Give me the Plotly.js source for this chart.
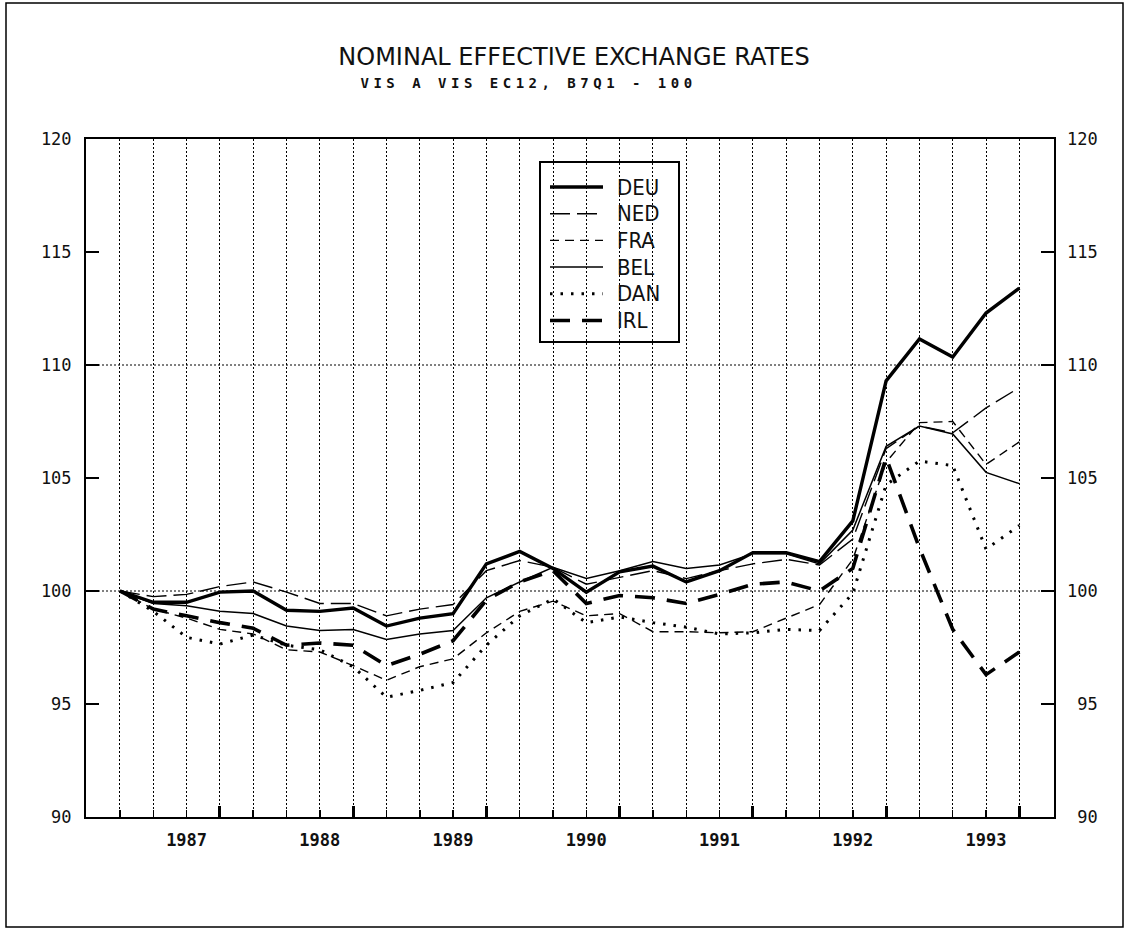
<!DOCTYPE html>
<html>
<head>
<meta charset="utf-8">
<script src="https://cdn.plot.ly/plotly-3.0.1.min.js"></script>
<style>
  html, body { margin: 0; padding: 0; background: #fff; }
  #chart { width: 1129px; height: 930px; }
  .annotation[data-index="0"] text { letter-spacing: 4.5px; }
</style>
</head>
<body>
<div id="chart"></div>
<script>
// ---- data (quarterly, 87Q1 = 100) ----
const quarters = ['87Q1','87Q2','87Q3','87Q4','88Q1','88Q2','88Q3','88Q4',
                  '89Q1','89Q2','89Q3','89Q4','90Q1','90Q2','90Q3','90Q4',
                  '91Q1','91Q2','91Q3','91Q4','92Q1','92Q2','92Q3','92Q4',
                  '93Q1','93Q2','93Q3','93Q4'];
const yearLabels = ['1987','1988','1989','1990','1991','1992','1993'];

const DEU = [100,99.5,99.5,99.95,100.0,99.15,99.1,99.25,98.45,98.8,99.0,101.2,101.75,101.0,
             99.95,100.85,101.1,100.4,100.9,101.7,101.7,101.3,103.1,109.3,111.15,110.35,112.3,113.4];
const NED = [100,99.75,99.85,100.2,100.4,99.95,99.45,99.45,98.9,99.2,99.4,100.9,101.35,101.05,
             100.3,100.6,100.9,100.55,100.9,101.2,101.4,101.15,102.3,106.3,107.3,107.0,108.1,109.0];
const FRA = [100,99.2,98.8,98.3,98.1,97.4,97.3,96.7,96.05,96.65,97.0,98.15,99.1,99.55,
             98.9,99.0,98.2,98.2,98.15,98.2,98.8,99.4,101.4,105.7,107.45,107.5,105.6,106.6];
const BEL = [100,99.45,99.35,99.1,99.0,98.45,98.25,98.3,97.85,98.1,98.25,99.7,100.4,101.05,
             100.55,100.9,101.3,101.0,101.15,101.65,101.65,101.2,102.7,106.4,107.3,106.95,105.25,104.75];
const DAN = [100,99.1,97.95,97.65,98.05,97.6,97.4,96.65,95.3,95.6,95.95,97.6,98.9,99.65,
             98.6,98.85,98.6,98.4,98.1,98.15,98.3,98.25,99.9,104.7,105.75,105.55,101.85,102.9];
const IRL = [100,99.2,98.9,98.6,98.35,97.6,97.7,97.6,96.7,97.2,97.8,99.6,100.4,100.9,
             99.45,99.8,99.7,99.45,99.85,100.3,100.4,100.0,101.0,105.9,101.9,98.3,96.3,97.3];

const yTicks = [90,95,100,105,110,115,120];
const yGrid = [100,110];

// ---- page geometry (pixels) ----
const W = 1129, H = 930, L = 86, R = 1054, T = 139, B = 817;
const px = v => (v - L) / (R - L);          // pixel x -> paper
const py = v => 1 - (v - T) / (B - T);      // pixel y -> paper

// ---- derived positions ----
const xIdx = quarters.map((q, i) => i);
const labelIdx = xIdx.filter(i => quarters[i].endsWith('Q3'));
const yearEndIdx = xIdx.filter(i => quarters[i].endsWith('Q4'));
const tickText = xIdx.map(i => {
  const k = labelIdx.indexOf(i);
  return k >= 0 ? yearLabels[k] : '';
});
const rightText = yTicks.map(v => (String(v).length < 3 ? '\u00a0' : '') + v);

const series = [
  {name:'DEU', y:DEU, line:{color:'#000', width:3.4}},
  {name:'NED', y:NED, line:{color:'#000', width:1.4, dash:'20px,7px'}},
  {name:'FRA', y:FRA, line:{color:'#000', width:1.4, dash:'9px,6px'}},
  {name:'BEL', y:BEL, line:{color:'#000', width:1.5}},
  {name:'DAN', y:DAN, line:{color:'#000', width:3, dash:'2.5px,8px'}},
  {name:'IRL', y:IRL, line:{color:'#000', width:3.6, dash:'20px,12px'}}
];

const traces = series.map(s => ({
  type:'scatter', mode:'lines', x:xIdx, y:s.y, name:s.name, line:s.line,
  hoverinfo:'x+y+name', showlegend:false
}));
// helper trace so the overlay axes (year ticks, right labels) render
traces.push({type:'scatter', mode:'lines', x:xIdx, y:DEU, xaxis:'x2', yaxis:'y2',
  line:{width:0, color:'rgba(0,0,0,0)'}, showlegend:false, hoverinfo:'skip'});

const mono = 'DejaVu Sans Mono, Liberation Mono, monospace';
const xr = [-1.02, 28.04];

// ---- hand-drawn legend box (as in the original plotter output) ----
const legBox = {x0:540, x1:679, y0:162, y1:342};
const legRow0 = 187, legStep = 26.7, legLine0 = 550, legLine1 = 603, legText = 615;

const legendShapes = [{
  type:'rect', xref:'paper', yref:'paper',
  x0:px(legBox.x0), x1:px(legBox.x1), y0:py(legBox.y1), y1:py(legBox.y0),
  line:{color:'#000', width:2}, fillcolor:'rgba(0,0,0,0)'
}].concat(series.map((s, i) => ({
  type:'line', xref:'paper', yref:'paper',
  x0:px(legLine0), x1:px(legLine1),
  y0:py(legRow0 + i * legStep), y1:py(legRow0 + i * legStep),
  line:s.line
})));
const legendNotes = series.map((s, i) => ({
  text:s.name, showarrow:false,
  xref:'paper', x:px(legText), xanchor:'left',
  yref:'paper', y:py(legRow0 + i * legStep), yanchor:'middle',
  font:{family:'Liberation Sans Narrow, DejaVu Sans Condensed, sans-serif', size:22, color:'#111'}
}));

const layout = {
  width:W, height:H,
  margin:{l:L, r:W - R, t:T, b:H - B},
  paper_bgcolor:'#fff', plot_bgcolor:'#fff',
  showlegend:false,
  title:{
    text:'NOMINAL EFFECTIVE EXCHANGE RATES',
    font:{family:'DejaVu Sans, sans-serif', size:24, color:'#111'},
    xref:'container', x:574/W, xanchor:'center',
    yref:'container', y:1 - 57/H, yanchor:'middle'
  },
  annotations:[{
    text:'VIS A VIS EC12, B7Q1 - 100',
    xref:'paper', x:px(528), xanchor:'center',
    yref:'paper', y:py(83), yanchor:'middle',
    showarrow:false,
    font:{family:mono, size:14, color:'#111', weight:'bold'}
  }].concat(legendNotes),
  xaxis:{
    range:xr, tickmode:'array', tickvals:xIdx, ticktext:tickText,
    ticks:'inside', ticklen:7, tickwidth:1.5, tickcolor:'#000',
    showgrid:true, gridcolor:'#000', gridwidth:1, griddash:'2px,2px',
    showline:true, mirror:true, linewidth:2, linecolor:'#000',
    zeroline:false, ticklabelstandoff:7,
    tickfont:{family:mono, size:17, color:'#111', weight:'bold'}
  },
  xaxis2:{
    range:xr, overlaying:'x', anchor:'y', side:'bottom',
    tickmode:'array', tickvals:yearEndIdx,
    ticks:'inside', ticklen:11, tickwidth:3, tickcolor:'#000',
    showticklabels:false, showgrid:false, showline:false, zeroline:false
  },
  yaxis:{
    range:[90,120], tickmode:'array', tickvals:yTicks,
    ticks:'inside', ticklen:13, tickwidth:1.5, tickcolor:'#000',
    showgrid:false, showline:true, mirror:'allticks', linewidth:2, linecolor:'#000',
    zeroline:false, ticklabelstandoff:9,
    tickfont:{family:mono, size:17, color:'#111'}
  },
  yaxis2:{
    range:[90,120], overlaying:'y', side:'right', anchor:'x',
    tickmode:'array', tickvals:yTicks, ticktext:rightText,
    ticks:'', showgrid:false, showline:false, zeroline:false,
    ticklabelstandoff:12,
    tickfont:{family:mono, size:17, color:'#111'}
  },
  shapes: yGrid.map(v => ({
    type:'line', xref:'paper', x0:0, x1:1, yref:'y', y0:v, y1:v,
    line:{color:'#000', width:1, dash:'2px,2px'}, layer:'below'
  })).concat([{
    type:'rect', xref:'paper', yref:'paper',
    x0:px(6), x1:px(1123), y0:py(927), y1:py(3),
    line:{color:'#000', width:1.5}, fillcolor:'rgba(0,0,0,0)', layer:'below'
  }]).concat(legendShapes)
};

Plotly.newPlot('chart', traces, layout, {displayModeBar:false, staticPlot:true});
</script>
</body>
</html>
